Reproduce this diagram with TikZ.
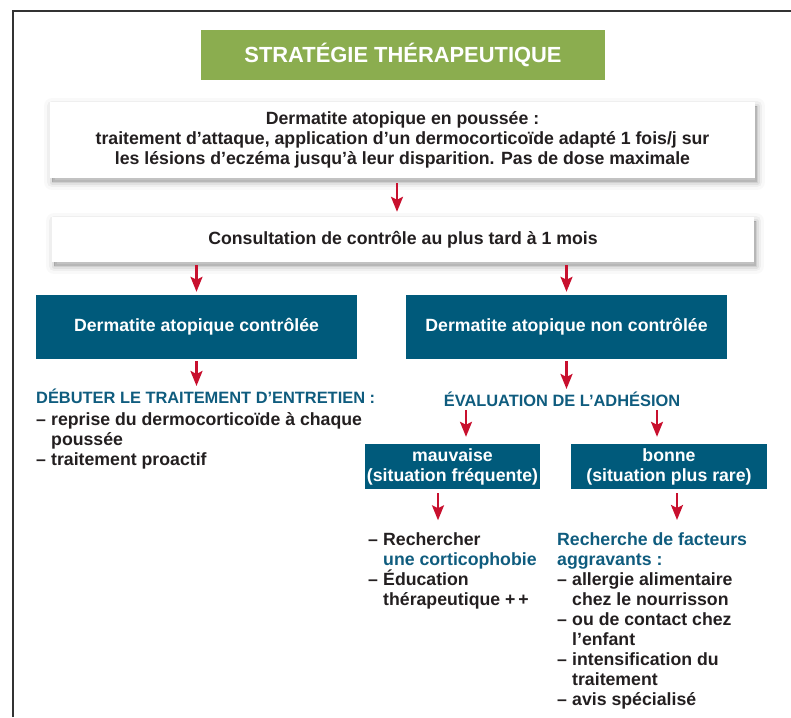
\documentclass[tikz,border=0pt]{standalone}
\usepackage{fontspec}
\setmainfont{Liberation Sans}
\usepackage{xcolor}
\usetikzlibrary{arrows.meta, positioning}

\definecolor{vertTitre}{HTML}{8BAD4F}
\definecolor{bleuCase}{HTML}{005A7B}
\definecolor{bleuTexte}{HTML}{0F5C7E}
\definecolor{rougeFleche}{HTML}{C8102E}
\definecolor{texteFonce}{HTML}{231F20}
\newcommand{\tiret}{\makebox[15pt][l]{–}}
\newcommand{\retrait}{\hspace*{15pt}}
\newcommand{\rubrique}[1]{{\fontsize{16.4pt}{20pt}\selectfont\color{bleuTexte}#1}}

\tikzset{
  txt/.style={font=\bfseries\fontsize{17.7pt}{20pt}\selectfont, text=texteFonce, inner sep=0pt},
  ombre/.style={
    preaction={fill=black, draw=black, line join=round, line width=16pt, opacity=.025, transform canvas={xshift=2pt, yshift=-4pt}},
    preaction={fill=black, draw=black, line join=round, line width=10pt, opacity=.04, transform canvas={xshift=2pt, yshift=-4pt}},
    preaction={fill=black, draw=black, line join=round, line width=5pt, opacity=.06, transform canvas={xshift=2pt, yshift=-4pt}},
    preaction={fill=black, draw=black, line join=round, line width=1pt, opacity=.08, transform canvas={xshift=2pt, yshift=-4pt}}},
  caseblanche/.style={txt, ombre, fill=white, align=center},
  casebleue/.style={txt, fill=bleuCase, text=white, align=center},
  liste/.style={txt, align=left},
  fleche/.style={-{Stealth[length=15pt, width=12pt, inset=3pt]}, draw=rougeFleche, line width=2.3pt}
}

\begin{document}
\begin{tikzpicture}[x=1pt, y=-1pt]
  \useasboundingbox (0,0) rectangle (791,717);
  % cadre
  \draw[line width=1.2pt, black!80] (13,717) -- (13,11) -- (791,11);

  % titre
  \node[fill=vertTitre, text=white, font=\bfseries\fontsize{21.9pt}{24pt}\selectfont,
        minimum width=404pt, minimum height=50pt, inner sep=0pt] (titre) at (403,55) {STRATÉGIE THÉRAPEUTIQUE};

  % cases blanches
  \node[caseblanche, minimum width=705pt, minimum height=76pt] (poussee) at (402.5,140)
    {Dermatite atopique en poussée :\\
     traitement d’attaque, application d’un dermocorticoïde adapté 1 fois/j sur\\
     les lésions d’eczéma jusqu’à leur disparition. Pas de dose maximale};
  \node[caseblanche, minimum width=702pt, minimum height=45pt] (controle) at (403,239.5)
    {Consultation de contrôle au plus tard à 1 mois};

  % cases bleues
  \node[casebleue, minimum width=321pt, minimum height=64pt] (daControlee) at (196.5,327)
    {Dermatite atopique contrôlée};
  \node[casebleue, minimum width=321pt, minimum height=64pt] (daNonControlee) at (566.5,327)
    {Dermatite atopique non contrôlée};

  % branche gauche (base = derniere ligne)
  \node[liste, anchor=base west] (entretien) at (36,465.7)
    {\rubrique{DÉBUTER LE TRAITEMENT D’ENTRETIEN :}\\[2pt]
     \tiret reprise du dermocorticoïde à chaque\\
     \retrait poussée\\
     \tiret traitement proactif};

  % branche droite
  \node[txt, anchor=base] (adhesion) at (562,406.7) {\rubrique{ÉVALUATION DE L’ADHÉSION}};
  \node[casebleue, minimum width=175pt, minimum height=45pt] (mauvaise) at (452.5,466.5)
    {mauvaise\\(situation fréquente)};
  \node[casebleue, minimum width=196pt, minimum height=45pt] (bonne) at (669,466.5)
    {bonne\\(situation plus rare)};
  \node[liste, anchor=base west] (corticophobie) at (368,605.3)
    {\tiret Rechercher\\
     \retrait\textcolor{bleuTexte}{une corticophobie}\\
     \tiret Éducation\\
     \retrait thérapeutique +\,+};
  \node[liste, anchor=base west] (facteurs) at (557,705)
    {\textcolor{bleuTexte}{Recherche de facteurs}\\
     \textcolor{bleuTexte}{aggravants :}\\
     \tiret allergie alimentaire\\
     \retrait chez le nourrisson\\
     \tiret ou de contact chez\\
     \retrait l’enfant\\
     \tiret intensification du\\
     \retrait traitement\\
     \tiret avis spécialisé};

  % fleches
  \draw[fleche, shorten <=5pt, shorten >=5pt] ([xshift=-5.5pt]poussee.south) -- ([xshift=-6pt]controle.north);
  \draw[fleche, shorten <=3pt, shorten >=3pt] (controle.south -| daControlee.north) -- (daControlee.north);
  \draw[fleche, shorten <=3pt, shorten >=3pt] (controle.south -| daNonControlee.north) -- (daNonControlee.north);
  \draw[fleche, shorten <=2pt, shorten >=3pt] (daControlee.south) -- (daControlee.south |- entretien.north);
  \draw[fleche, shorten <=2pt, shorten >=3pt] (daNonControlee.south) -- (daNonControlee.south |- adhesion.north);
  \draw[fleche, shorten <=3pt, shorten >=7pt] ([xshift=13.5pt]mauvaise.north |- adhesion.south) -- ([xshift=13.5pt]mauvaise.north);
  \draw[fleche, shorten <=3pt, shorten >=7pt] ([xshift=-12pt]bonne.north |- adhesion.south) -- ([xshift=-12pt]bonne.north);
  \draw[fleche, shorten <=4pt, shorten >=12pt] ([xshift=-14.5pt]mauvaise.south) -- ([xshift=-14.5pt]mauvaise.south |- corticophobie.north);
  \draw[fleche, shorten <=4pt, shorten >=12pt] ([xshift=8pt]bonne.south) -- ([xshift=8pt]bonne.south |- facteurs.north);
\end{tikzpicture}
\end{document}
